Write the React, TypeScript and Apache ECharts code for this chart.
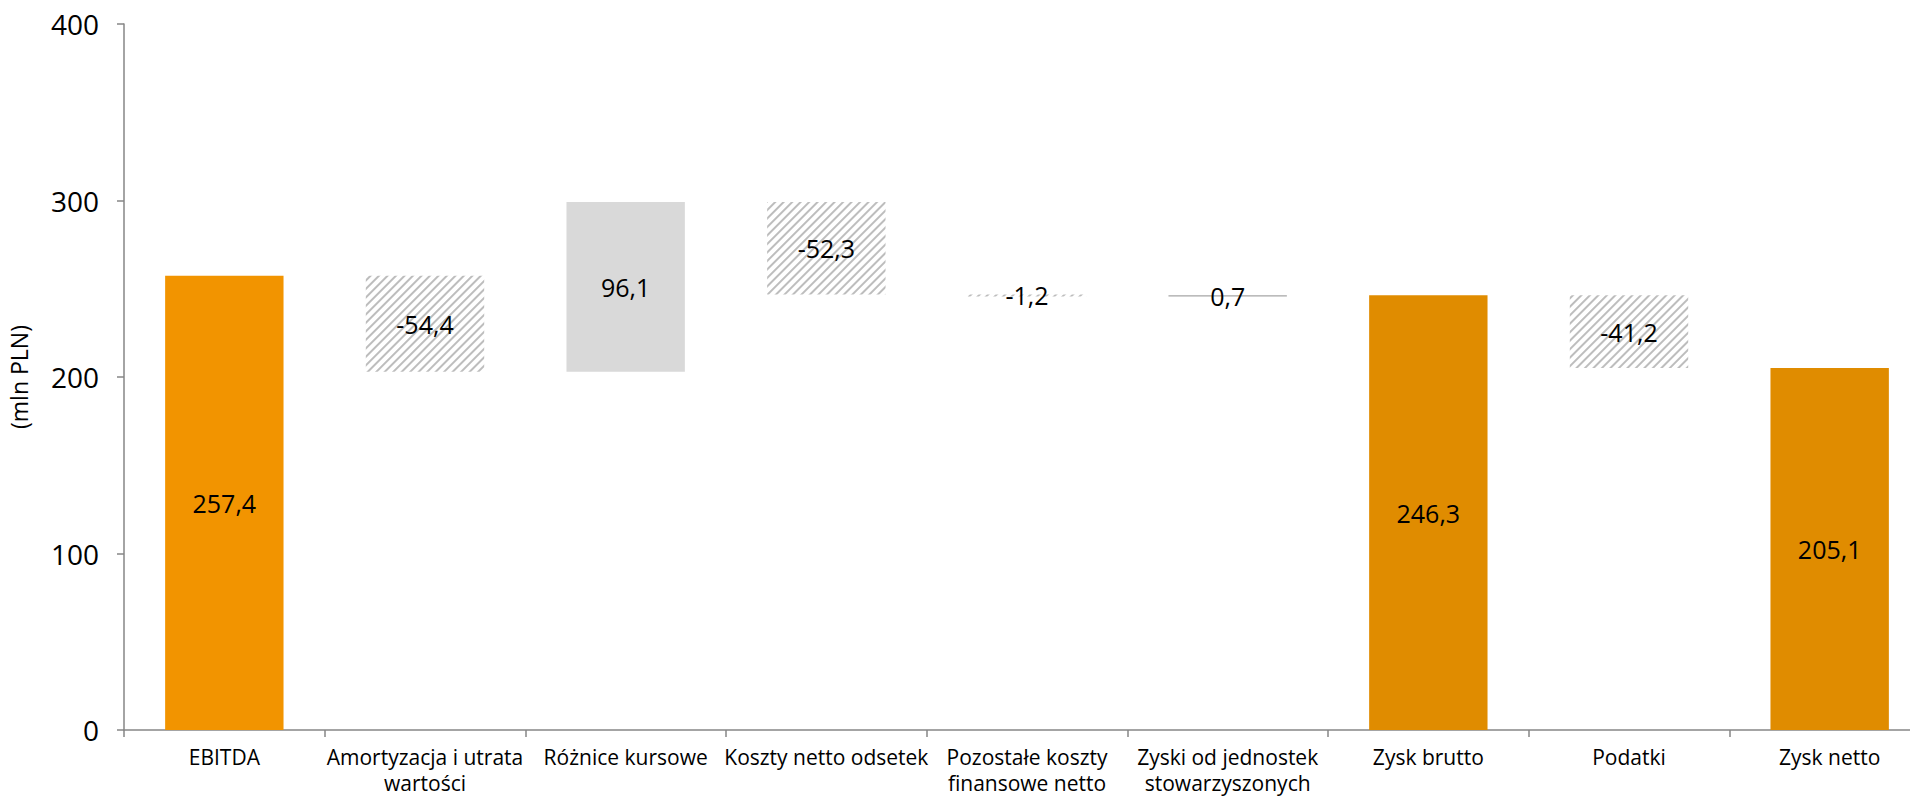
import React, { useEffect, useRef } from "react";
import * as echarts from "echarts";

const categories = [
  "EBITDA",
  "Amortyzacja i utrata\nwartości",
  "Różnice kursowe",
  "Koszty netto odsetek",
  "Pozostałe koszty\nfinansowe netto",
  "Zyski od jednostek\nstowarzyszonych",
  "Zysk brutto",
  "Podatki",
  "Zysk netto",
];
// signed values; kind: "total" bars start at zero
const values = [257.4, -54.4, 96.1, -52.3, -1.2, 0.7, 246.3, -41.2, 205.1];
const kinds = ["total", "delta", "delta", "delta", "delta", "delta", "total", "delta", "total"];
const yTicks = { min: 0, max: 400, interval: 100 };

const FONT = "'Open Sans', sans-serif";

export default function App() {
  const ref = useRef<HTMLDivElement>(null);
  useEffect(() => {
    document.body.style.margin = "0";
    if (!ref.current) return;
    const chart = echarts.init(ref.current, undefined, { renderer: "svg" });

    const base: number[] = [];
    const vis: any[] = [];
    let running = 0;
    values.forEach((v, i) => {
      if (kinds[i] === "total") {
        base.push(0);
        running = v;
        vis.push({
          value: v,
          itemStyle: { color: i === 0 ? "#F29400" : "#E08C00" },
        });
      } else {
        const start = running;
        const end = running + v;
        base.push(Math.min(start, end));
        running = end;
        if (v < 0) {
          vis.push({
            value: Math.abs(v),
            itemStyle: {
              color: "#FFFFFF",
              decal: {
                symbol: "rect",
                symbolSize: 1,
                color: "#BDBDBD",
                dashArrayX: [1, 0],
                dashArrayY: [1.6, 3.4],
                rotation: -Math.PI / 4,
              },
            },
          });
        } else {
          vis.push({
            value: v,
            itemStyle: { color: i === 5 ? "#A6A6A6" : "#D9D9D9" },
          });
        }
      }
    });

    chart.setOption({
      animation: false,
      grid: {
        left: 124,
        right: -20,
        top: 24,
        bottom: 70,
        containLabel: false,
        outerBoundsMode: "none",
      },
      xAxis: {
        type: "category",
        data: categories,
        axisLine: { lineStyle: { color: "#868686", width: 1.5 } },
        axisTick: { show: true, length: 7, lineStyle: { color: "#868686", width: 1.5 } },
        axisLabel: {
          color: "#000",
          fontSize: 21,
          fontFamily: FONT,
          margin: 14,
          lineHeight: 26,
          interval: 0,
        },
      },
      yAxis: {
        type: "value",
        min: yTicks.min,
        max: yTicks.max,
        interval: yTicks.interval,
        name: "(mln PLN)",
        nameLocation: "middle",
        nameRotate: 90,
        nameGap: 94,
        nameTextStyle: { color: "#000", fontSize: 23, fontFamily: FONT },
        splitLine: { show: false },
        axisLine: { show: true, lineStyle: { color: "#868686", width: 1.5 } },
        axisTick: { show: true, length: 7, lineStyle: { color: "#868686", width: 1.5 } },
        axisLabel: { color: "#000", fontSize: 28, fontFamily: FONT, margin: 25 },
      },
      series: [
        {
          type: "bar",
          stack: "w",
          data: base,
          itemStyle: { color: "transparent" },
          emphasis: { disabled: true },
          silent: true,
          barCategoryGap: "41%",
        },
        {
          type: "bar",
          stack: "w",
          data: vis,
          barCategoryGap: "41%",
          label: {
            show: true,
            position: "inside",
            color: "#000",
            fontSize: 25,
            fontFamily: FONT,
            formatter: (p: any) => values[p.dataIndex].toFixed(1).replace(".", ","),
          },
        },
      ],
    });
    return () => chart.dispose();
  }, []);
  return <div ref={ref} style={{ width: 1910, height: 800 }} />;
}
